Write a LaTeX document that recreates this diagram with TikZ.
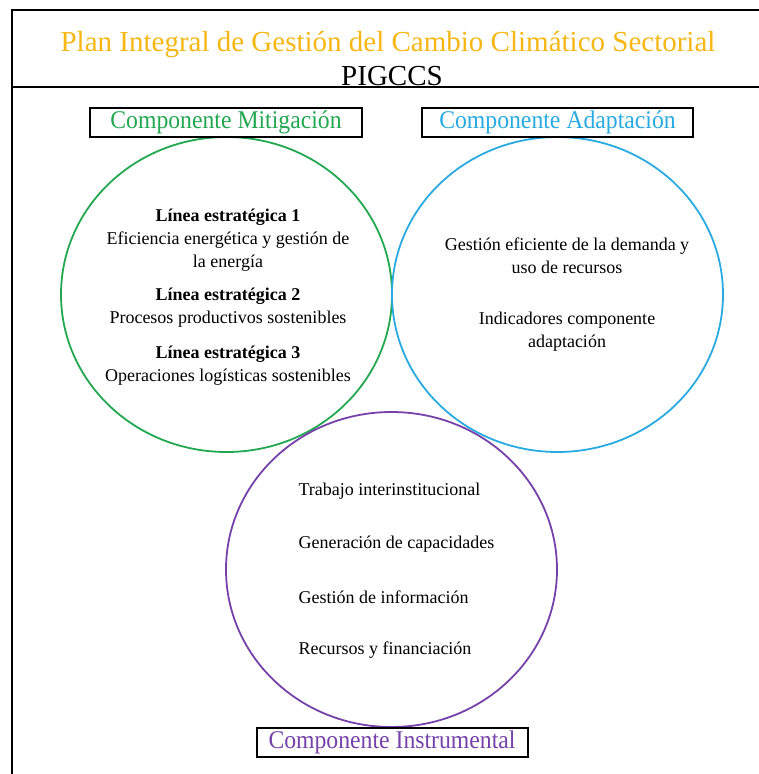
\documentclass[tikz,border=0pt]{standalone}
\usepackage{fontspec}
\setmainfont{Liberation Serif}
\newfontfamily\tnr{Liberation Serif}
\usetikzlibrary{shapes.geometric}
\definecolor{titleorange}{RGB}{246,183,20}
\definecolor{mitgreen}{RGB}{34,168,80}
\definecolor{adablue}{RGB}{41,171,226}
\definecolor{inspurple}{RGB}{118,66,170}
\newcommand{\cond}[1]{\scalebox{0.93}[1]{#1}}
\tikzset{
  frame/.style={line width=2pt, black},
  ring/.style={ellipse, draw, line width=1.8pt, minimum width=331pt, minimum height=315pt, inner sep=0pt},
  labelbox/.style={draw=black, line width=2pt, fill=white, font=\tnr\fontsize{25.5}{28}\selectfont, inner sep=0pt, minimum height=29pt},
  body/.style={font=\tnr\fontsize{18}{23}\selectfont, align=center, text=black},
}
\begin{document}
\begin{tikzpicture}[x=1pt,y=-1pt]
\useasboundingbox (0,0) rectangle (758,774);
% outer frame
\coordinate (tl) at (12,10);
\coordinate (tr) at (760,10);
\coordinate (bl) at (12,776);
\coordinate (ml) at (12,87);
\coordinate (mr) at (760,87);
\draw[frame] (tr) -- (tl) -- (bl);
\draw[frame] (ml) -- (mr);
% title
\node[text=titleorange, font=\tnr\fontsize{29}{32}\selectfont] (title) at (388,45) {Plan Integral de Gestión del Cambio Climático Sectorial};
\node[text=black, font=\tnr\fontsize{29}{32}\selectfont] (pig) at (392,76) {PIGCCS};
% circles
\node[ring, draw=mitgreen] (cmit) at (226.5,294.5) {};
\node[ring, draw=adablue] (cada) at (557.5,294.5) {};
\node[ring, draw=inspurple] (cins) at (391.5,569.5) {};
% label boxes
\node[labelbox, text=mitgreen, minimum width=272pt] (bmit) at (226,122) {\cond{Componente Mitigación}};
\node[labelbox, text=adablue, minimum width=271pt] (bada) at (557.5,122) {\cond{Componente Adaptación}};
\node[labelbox, text=inspurple, minimum width=271pt] (bins) at (392,742) {\cond{Componente Instrumental}};
% mitigation text
\node[body] (m1) at (228,240) {\textbf{Línea estratégica 1}\\Eficiencia energética y gestión de\\la energía};
\node[body] (m2) at (228,308) {\textbf{Línea estratégica 2}\\Procesos productivos sostenibles};
\node[body] (m3) at (228,366) {\textbf{Línea estratégica 3}\\Operaciones logísticas sostenibles};
% adaptation text
\node[body] (a1) at (567,256) {Gestión eficiente de la demanda y\\uso de recursos};
\node[body] (a2) at (567,332) {Indicadores componente\\adaptación};
% instrumental text
\node[body, anchor=west] (i1) at (295,491) {Trabajo interinstitucional};
\node[body, anchor=west] (i2) at (295,544) {Generación de capacidades};
\node[body, anchor=west] (i3) at (295,597) {Gestión de información};
\node[body, anchor=west] (i4) at (295,650) {Recursos y financiación};
\end{tikzpicture}
\end{document}
